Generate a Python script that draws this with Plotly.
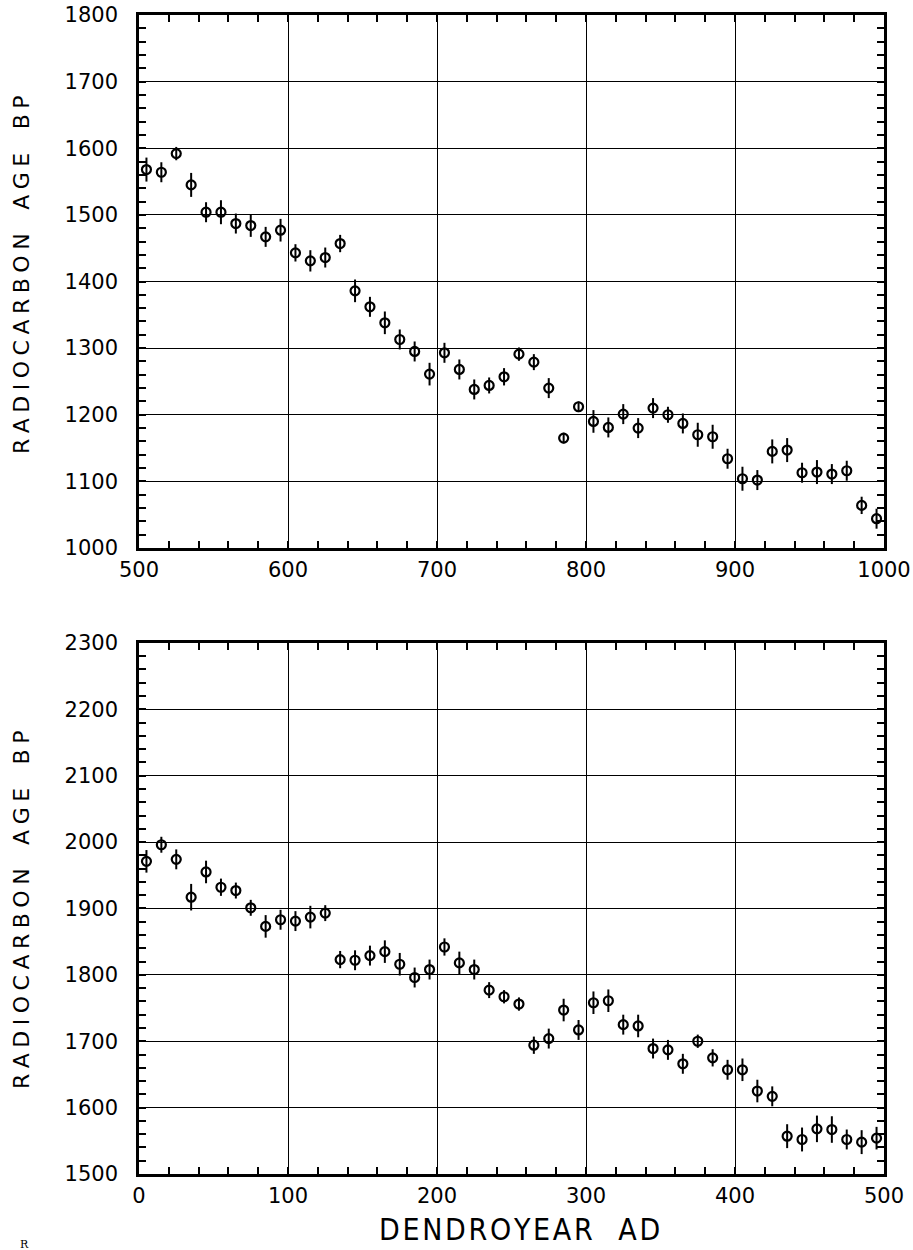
import plotly.graph_objects as go

# ---- data: upper panel (AD 500-1000) ----
top_years = [505, 515, 525, 535, 545, 555, 565, 575, 585, 595,
             605, 615, 625, 635, 645, 655, 665, 675, 685, 695,
             705, 715, 725, 735, 745, 755, 765, 775, 785, 795,
             805, 815, 825, 835, 845, 855, 865, 875, 885, 895,
             905, 915, 925, 935, 945, 955, 965, 975, 985, 995]
top_age = [1568, 1564, 1592, 1545, 1504, 1504, 1487, 1484, 1467, 1477,
           1443, 1431, 1436, 1457, 1386, 1362, 1338, 1313, 1295, 1261,
           1293, 1268, 1238, 1244, 1257, 1291, 1279, 1240, 1165, 1212,
           1190, 1181, 1201, 1180, 1210, 1200, 1187, 1170, 1167, 1134,
           1104, 1102, 1145, 1147, 1113, 1114, 1111, 1116, 1064, 1044]
top_err = [18, 15, 10, 18, 15, 18, 15, 17, 15, 17,
           13, 16, 15, 13, 17, 15, 17, 15, 15, 17,
           15, 15, 15, 12, 13, 10, 12, 15, 8, 8,
           17, 15, 15, 15, 15, 12, 15, 18, 18, 15,
           18, 15, 18, 18, 15, 18, 15, 15, 13, 15]

# ---- data: lower panel (AD 0-500) ----
bot_years = [5, 15, 25, 35, 45, 55, 65, 75, 85, 95,
             105, 115, 125, 135, 145, 155, 165, 175, 185, 195,
             205, 215, 225, 235, 245, 255, 265, 275, 285, 295,
             305, 315, 325, 335, 345, 355, 365, 375, 385, 395,
             405, 415, 425, 435, 445, 455, 465, 475, 485, 495]
bot_age = [1971, 1996, 1974, 1917, 1955, 1932, 1927, 1901, 1873, 1883,
           1881, 1887, 1893, 1823, 1822, 1829, 1835, 1816, 1796, 1808,
           1842, 1818, 1808, 1777, 1767, 1756, 1694, 1704, 1747, 1717,
           1758, 1761, 1725, 1723, 1689, 1687, 1666, 1700, 1675, 1657,
           1657, 1625, 1617, 1557, 1552, 1568, 1567, 1552, 1548, 1554]
bot_err = [17, 12, 15, 20, 17, 13, 12, 12, 17, 15,
           15, 17, 12, 13, 15, 15, 17, 17, 15, 15,
           13, 17, 15, 12, 10, 10, 13, 15, 17, 15,
           17, 17, 15, 17, 15, 15, 15, 10, 13, 15,
           17, 17, 15, 18, 18, 20, 20, 15, 18, 17]

top_xticks = [500, 600, 700, 800, 900, 1000]
top_yticks = [1000, 1100, 1200, 1300, 1400, 1500, 1600, 1700, 1800]
bot_xticks = [0, 100, 200, 300, 400, 500]
bot_yticks = [1500, 1600, 1700, 1800, 1900, 2000, 2100, 2200, 2300]

FONT = "DejaVu Sans"
SP = "\u2005"   # letter spacing for y titles
HS = "\u200a"   # hair spacing for x title
YTITLE = (" " + SP * 3).join(SP.join(w) for w in ["RADIOCARBON", "AGE", "BP"])
XTITLE = HS.join("DENDROYEAR") + "&nbsp;&nbsp;&nbsp;" + HS.join("AD")

def trace(x, y, e, xa, ya):
    return go.Scatter(
        x=x, y=y, mode="markers", xaxis=xa, yaxis=ya,
        marker=dict(symbol="circle-open", size=9, color="black",
                    line=dict(width=2.2, color="black")),
        error_y=dict(type="data", array=e, visible=True, color="black",
                     thickness=2, width=0),
        showlegend=False, hoverinfo="x+y")

fig = go.Figure()
fig.add_trace(trace(top_years, top_age, top_err, "x", "y"))
fig.add_trace(trace(bot_years, bot_age, bot_err, "x2", "y2"))

def axis(rng, ticks, domain, anchor):
    return dict(range=rng, tickvals=ticks, ticktext=[str(t) for t in ticks],
                domain=domain, anchor=anchor, automargin=False,
                ticklabeloverflow="allow",
                showline=True, linewidth=2.5, linecolor="black", mirror="allticks",
                ticks="inside", ticklen=7, tickwidth=1.5, tickcolor="black",
                showgrid=True, gridcolor="black", gridwidth=1.4,
                zeroline=False,
                tickfont=dict(family=FONT, size=21, color="black"),
                minor=dict(dtick=20, ticks="inside", ticklen=7, tickwidth=1.5,
                           tickcolor="black", showgrid=False),
                fixedrange=True)

fig.update_layout(
    width=913, height=1250,
    margin=dict(l=139, r=29, t=15, b=76, autoexpand=False),
    paper_bgcolor="white", plot_bgcolor="white",
    xaxis=axis([500, 1000], top_xticks, [0, 1], "y"),
    yaxis=axis([1000, 1800], top_yticks, [0.5401, 1], "x"),
    xaxis2=axis([0, 500], bot_xticks, [0, 1], "y2"),
    yaxis2=axis([1500, 2300], bot_yticks, [0, 0.4582], "x2"),
)
fig.update_xaxes(ticklabelstandoff=1)
fig.update_yaxes(ticklabelstandoff=14)

for yc in (0.7757, 0.2278):
    fig.add_annotation(text=YTITLE, xref="paper", yref="paper", x=-0.157, y=yc,
                       xanchor="center", yanchor="middle", textangle=-90, showarrow=False,
                       font=dict(family=FONT, size=22, color="black"))

fig.add_annotation(text=XTITLE, xref="paper", yref="paper",
                   x=0.5114, y=-0.0475, xanchor="center", yanchor="middle", showarrow=False,
                   font=dict(family="Liberation Sans Narrow, DejaVu Sans Condensed, DejaVu Sans",
                             size=30, color="black"))
fig.add_annotation(text="R", xref="paper", yref="paper",
                   x=-0.1624, y=-0.0535, xanchor="left", yanchor="top", showarrow=False,
                   font=dict(family="DejaVu Serif", size=11, color="black"))

fig.write_html("out.html")
